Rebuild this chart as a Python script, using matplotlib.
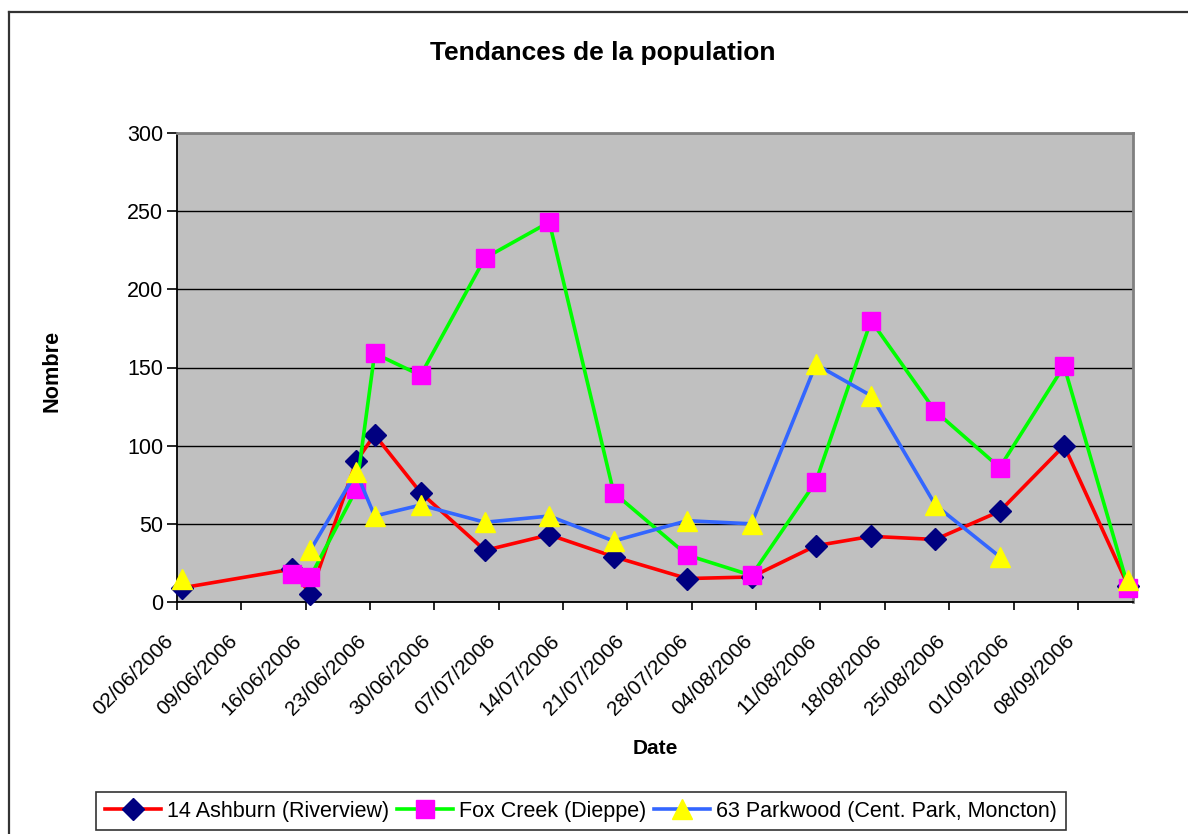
#!/usr/bin/env python3
"""Population trends line chart (Excel-style), saved to out.png."""

import matplotlib

matplotlib.use("Agg")

import matplotlib.dates as mdates
import matplotlib.pyplot as plt
import numpy as np
import pandas as pd
from matplotlib.lines import Line2D

plt.rcParams["font.family"] = ["Liberation Sans", "DejaVu Sans"]

# sampling dates (dd/mm/yyyy)
dates = pd.to_datetime([
    "02/06/2006", "14/06/2006", "16/06/2006", "21/06/2006", "23/06/2006",
    "28/06/2006", "05/07/2006", "12/07/2006", "19/07/2006", "27/07/2006",
    "03/08/2006", "10/08/2006", "16/08/2006", "23/08/2006", "30/08/2006",
    "06/09/2006", "13/09/2006",
], dayfirst=True)

nan = np.nan
ashburn = [9, 21, 5, 90, 107, 70, 33, 43, 29, 15, 16, 36, 42, 40, 58, 100, 10]
fox_creek = [nan, 18, 16, 72, 159, 145, 220, 243, 70, 30, 17, 77, 180, 122, 86, 151, 9]
parkwood = [15, nan, 33, 83, 55, 62, 51, 55, 39, 52, 50, 152, 132, 62, 29, nan, 14]

series_names = [
    "14 Ashburn (Riverview)",
    "Fox Creek (Dieppe)",
    "63 Parkwood (Cent. Park, Moncton)",
]

tick_dates = pd.date_range("2006-06-02", "2006-09-08", freq="7D")
x_start = pd.Timestamp("2006-06-02")
x_end = pd.Timestamp("2006-09-14")

W, H = 1188, 834
fig = plt.figure(figsize=(W / 100, H / 100), dpi=100)
ax = fig.add_axes([177 / W, 1 - 602 / H, (1133 - 177) / W, (602 - 133) / H])
ax.set_facecolor("#c0c0c0")

# Excel puts each point in the middle of its day
xs = dates + pd.Timedelta(hours=12)

styles = [
    dict(color="#ff0000", marker="D", ms=11, mfc="#000080", mec="#000080"),
    dict(color="#00ff00", marker="s", ms=13.5, mfc="#ff00ff", mec="#ff00ff"),
    dict(color="#3366ff", marker="^", ms=15, mfc="#ffff00", mec="#ffff00"),
]
handles = []
for vals, name, st in zip([ashburn, fox_creek, parkwood], series_names, styles):
    (ln,) = ax.plot(xs, vals, lw=2.6, label=name, clip_on=False, zorder=3, **st)
    handles.append(ln)

ax.set_xlim(x_start, x_end)
ax.set_ylim(0, 300)
ax.set_yticks(np.arange(0, 301, 50))
ax.set_xticks(tick_dates)
ax.xaxis.set_major_formatter(mdates.DateFormatter("%d/%m/%Y"))

ax.grid(True, axis="y", color="black", lw=1.0)
ax.set_axisbelow(True)

for side in ("top", "right"):
    ax.spines[side].set_color("#808080")
    ax.spines[side].set_linewidth(2.0)
for side in ("left", "bottom"):
    ax.spines[side].set_color("black")
    ax.spines[side].set_linewidth(1.3)

ax.tick_params(axis="y", length=7, width=1.2, pad=3, labelsize=15.5)
ax.tick_params(axis="x", length=6, width=1.2, pad=15, labelsize=15)
for lab in ax.get_xticklabels():
    lab.set_rotation(45)
    lab.set_ha("right")
    lab.set_va("top")

fig.text(603 / W, 1 - 60 / H, "Tendances de la population",
         ha="center", va="baseline", fontsize=19, fontweight="bold")
fig.text(52 / W, 1 - 371 / H, "Nombre", ha="center", va="center",
         rotation=90, fontsize=15.6, fontweight="bold")
fig.text(655 / W, 1 - 754 / H, "Date", ha="center", va="baseline",
         fontsize=15, fontweight="bold")

leg = fig.legend(
    handles=handles,
    loc="upper center",
    bbox_to_anchor=(581 / W, 1 - 792 / H),
    ncol=3,
    fontsize=15.5,
    frameon=True,
    fancybox=False,
    handlelength=2.6,
    handletextpad=0.3,
    columnspacing=0.35,
    borderpad=0.4,
    borderaxespad=0,
)
leg.get_frame().set_edgecolor("black")
leg.get_frame().set_linewidth(1.2)

# outer chart border (cropped at right and bottom)
bx, by = 9 / W, 1 - 12 / H
fig.add_artist(Line2D([bx, bx], [0, by], color="#333333", lw=1.6))
fig.add_artist(Line2D([bx, 1], [by, by], color="#333333", lw=1.6))

fig.savefig("out.png", dpi=100)
